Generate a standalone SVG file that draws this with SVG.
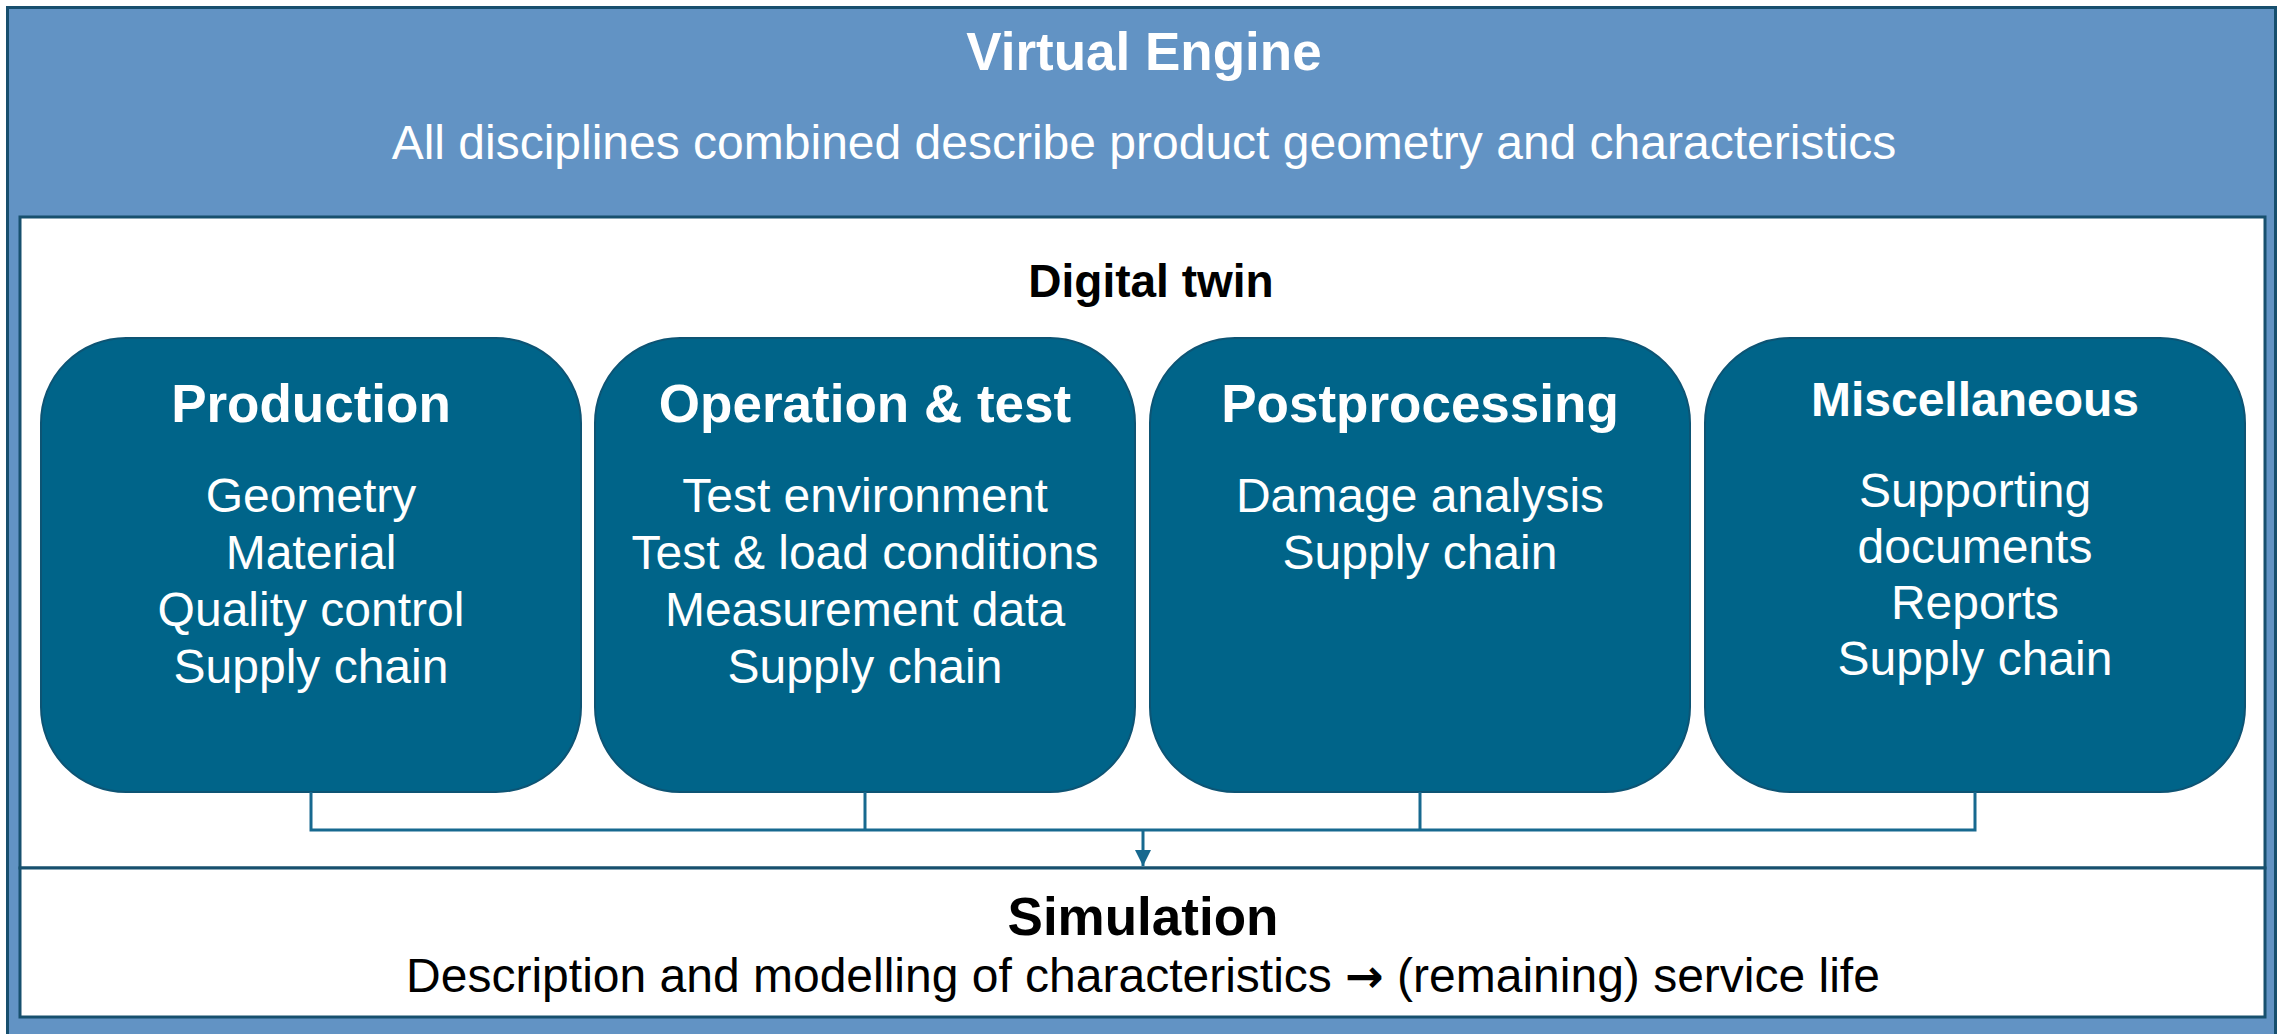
<svg xmlns="http://www.w3.org/2000/svg" width="2277" height="1034" viewBox="0 0 2277 1034">
  <style>
    .frame { fill: #6293c4; stroke: #174f6e; stroke-width: 3; }
    .panel { fill: #ffffff; stroke: #17506e; stroke-width: 3; }
    .card { fill: #006489; stroke: #0d5474; stroke-width: 2; }
    .wire { fill: none; stroke: #17698f; stroke-width: 3; }
    text { font-family: "Liberation Sans", Arial, sans-serif; text-anchor: middle; }
    .h1 { font-size: 53px; font-weight: bold; }
    .h2 { font-size: 46px; font-weight: bold; }
    .body { font-size: 48px; }
    .white { fill: #ffffff; }
    .black { fill: #000000; }
    .sym { font-family: "DejaVu Sans", sans-serif; font-weight: bold; font-size: 46px; }
  </style>
  <defs>
    <marker id="arrow" markerUnits="userSpaceOnUse" markerWidth="18" markerHeight="18" refX="16" refY="8" orient="auto">
      <path d="M0,0 L16,8 L0,16 Z" fill="#17698f"/>
    </marker>
  </defs>

  <!-- Virtual Engine frame -->
  <g id="virtual-engine">
    <rect class="frame" x="7.5" y="7.5" width="2268" height="1030"/>
    <text class="h1 white" x="1144" y="70">Virtual Engine</text>
    <text class="body white" x="1144" y="159">All disciplines combined describe product geometry and characteristics</text>
  </g>

  <!-- Digital twin panel -->
  <g id="digital-twin">
    <rect class="panel" x="20" y="217" width="2245" height="651"/>
    <text class="h2 black" x="1151" y="297">Digital twin</text>
  </g>

  <!-- Simulation panel -->
  <g id="simulation">
    <rect class="panel" x="20" y="868" width="2245" height="149"/>
    <text class="h1 black" x="1143" y="935">Simulation</text>
    <text class="body black" x="1143" y="992">Description and modelling of characteristics <tspan class="sym">→</tspan> (remaining) service life</text>
  </g>

  <g id="production">
    <rect class="card" x="41" y="338" width="540" height="454" rx="85" ry="85"/>
    <text class="h1 white" x="311" y="422">Production</text>
    <text class="body white" x="311" y="512">Geometry</text>
    <text class="body white" x="311" y="569">Material</text>
    <text class="body white" x="311" y="626">Quality control</text>
    <text class="body white" x="311" y="683">Supply chain</text>
  </g>

  <g id="operation-test">
    <rect class="card" x="595" y="338" width="540" height="454" rx="85" ry="85"/>
    <text class="h1 white" x="865" y="422">Operation &amp; test</text>
    <text class="body white" x="865" y="512">Test environment</text>
    <text class="body white" x="865" y="569">Test &amp; load conditions</text>
    <text class="body white" x="865" y="626">Measurement data</text>
    <text class="body white" x="865" y="683">Supply chain</text>
  </g>

  <g id="postprocessing">
    <rect class="card" x="1150" y="338" width="540" height="454" rx="85" ry="85"/>
    <text class="h1 white" x="1420" y="422">Postprocessing</text>
    <text class="body white" x="1420" y="512">Damage analysis</text>
    <text class="body white" x="1420" y="569">Supply chain</text>
  </g>

  <g id="miscellaneous">
    <rect class="card" x="1705" y="338" width="540" height="454" rx="85" ry="85"/>
    <text class="white" x="1975" y="416" style="font-size:48px;font-weight:bold">Miscellaneous</text>
    <text class="body white" x="1975" y="507">Supporting</text>
    <text class="body white" x="1975" y="563">documents</text>
    <text class="body white" x="1975" y="619">Reports</text>
    <text class="body white" x="1975" y="675">Supply chain</text>
  </g>

  <!-- connectors: each card feeds the simulation panel -->
  <g id="connectors">
    <path class="wire" d="M311,792 V830 H1975 V792"/>
    <path class="wire" d="M865,792 V830"/>
    <path class="wire" d="M1420,792 V830"/>
    <path class="wire" d="M1143,830 V866" marker-end="url(#arrow)"/>
  </g>
</svg>
